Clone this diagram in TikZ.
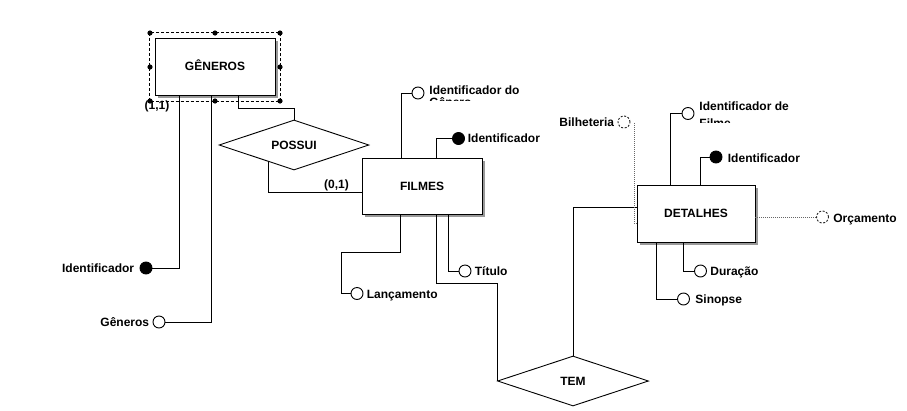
\documentclass[tikz,border=0pt]{standalone}
\usepackage{fontspec}
\setmainfont{Liberation Sans}
\usetikzlibrary{shapes.geometric,shadows,calc}
\begin{document}
\begin{tikzpicture}[x=1pt,y=-1pt,line width=0.9pt,
  every node/.style={font=\fontsize{12}{13}\selectfont\bfseries},
  ent/.style={draw, fill=white, inner sep=0pt, text height=8.6pt, text depth=0pt,
    drop shadow={shadow xshift=2.5pt, shadow yshift=-2.5pt, opacity=1, fill=gray!80}},
  rel/.style={diamond, draw, fill=white, inner sep=0pt, shape aspect=3,
    minimum width=150pt, minimum height=50pt, text height=8.6pt, text depth=0pt},
  attr/.style={circle, draw, fill=white, minimum size=12pt, inner sep=0pt},
  keyattr/.style={attr, fill=black},
  optattr/.style={attr, draw=black!85, dash pattern=on 2pt off 1.6pt},
  lbl/.style={inner sep=0pt},
  optline/.style={draw=gray!80!black, line width=0.8pt, dash pattern=on 1pt off 1pt},
]
\useasboundingbox[fill=white] (0,0) rectangle (907,410);

% entities and relationships
\node[ent, minimum width=120pt, minimum height=57pt] (gen) at (215,66.5) {GÊNEROS};
\node[ent, minimum width=120pt, minimum height=56pt] (fil) at (422,186) {FILMES};
\node[ent, minimum width=118pt, minimum height=57pt] (det) at (696,213.5) {DETALHES};
\node[rel] (pos) at (294,145) {POSSUI};
\node[rel, minimum width=151pt] (tem) at (573,381) {TEM};

% attributes
\node[keyattr] (gId) at (146,268) {};
\node[attr] (gGen) at (159,322) {};
\node[attr] (fIdG) at (418,93) {};
\node[keyattr] (fId) at (458.5,138.5) {};
\node[attr] (fTit) at (465,271) {};
\node[attr] (fLan) at (357,293.5) {};
\node[optattr] (dBil) at (624,122) {};
\node[attr] (dIdF) at (688,113.5) {};
\node[keyattr] (dId) at (716,157) {};
\node[optattr] (dOrc) at (822.5,217) {};
\node[attr] (dDur) at (700.5,271) {};
\node[attr] (dSin) at (683.5,299) {};

% connectors
\draw ($(gen.south west)+(25,0)$) |- (gId.east);
\draw ($(gen.south west)+(57,0)$) |- (gGen.east);
\draw ($(gen.south west)+(84,0)$) -- ++(0,13) -| (pos.north);
\draw ($(pos.south)!0.333!(pos.west)$) |- ($(fil.west)+(0,6)$);
\draw ($(fil.north west)+(40,0)$) |- (fIdG.west);
\draw ($(fil.north west)+(75,0)$) |- (fId.west);
\draw ($(fil.south west)+(87,0)$) |- (fTit.west);
\draw ($(fil.south west)+(39,0)$) -- ++(0,38) -- ++(-59,0) |- (fLan.west);
\draw ($(fil.south west)+(75,0)$) -- ++(0,69) -| (tem.west);
\draw (tem.north) |- ($(det.west)+(0,-6.5)$);
\draw ($(det.north west)+(34,0)$) |- (dIdF.west);
\draw ($(det.north west)+(64,0)$) |- (dId.west);
\draw ($(det.south west)+(47,0)$) |- (dDur.west);
\draw ($(det.south west)+(20,0)$) |- (dSin.west);
\draw[optline] (dOrc.west) -- (dOrc.west -| det.east);
\draw[optline] ($(dBil.east)+(3.5,1)$) |- ($(det.west)+(0,9.5)$);

% labels
\node[lbl, anchor=base east] (tgId) at ($(gId.west)+(-5,4.5)$) {Identificador};
\node[lbl, anchor=base east] (tgGen) at ($(gGen.west)+(-3,4.5)$) {Gêneros};
\node[lbl, anchor=base west] (tfId) at ($(fId.east)+(2.5,4)$) {Identificador};
\node[lbl, anchor=base west] (tfTit) at ($(fTit.east)+(3,4.5)$) {Título};
\node[lbl, anchor=base west] (tfLan) at ($(fLan.east)+(3,5)$) {Lançamento};
\node[lbl, anchor=base east] (tdBil) at ($(dBil.west)+(-3,4.7)$) {Bilheteria};
\node[lbl, anchor=base west] (tdId) at ($(dId.east)+(5,5.5)$) {Identificador};
\node[lbl, anchor=base west] (tdOrc) at ($(dOrc.east)+(4,5)$) {Orçamento};
\node[lbl, anchor=base west] (tdDur) at ($(dDur.east)+(3,4)$) {Duração};
\node[lbl, anchor=base west] (tdSin) at ($(dSin.east)+(5,4.3)$) {Sinopse};

\begin{scope}
  \clip (424,78) rectangle (575,100.7);
  \node[lbl, anchor=base west] (tfIdG1) at (429,94.7) {Identificador do};
  \node[lbl, anchor=base west] (tfIdG2) at (429,106) {Gênero};
\end{scope}
\begin{scope}
  \clip (694,96) rectangle (845,122.7);
  \node[lbl, anchor=base west] (tdIdF1) at (699,110) {Identificador de};
  \node[lbl, anchor=base west] (tdIdF2) at (699,127.5) {Filme};
\end{scope}

% selection frame around GENEROS
\draw[line width=0.7pt, dash pattern=on 3pt off 2pt]
  ($(gen.north west)+(-5,-5)$) rectangle ($(gen.south east)+(5,6)$);
\foreach \p in {(150,33),(215,33),(280,33),(150,67),(280,67),(150,101),(215,101),(280,101)}
  \fill \p circle (2.6);

% cardinalities
\node[lbl, text height=8.6pt, text depth=0pt] (c11) at (157,105) {(1,1)};
\node[lbl, text height=8.6pt, text depth=0pt] (c01) at (336.5,184.5) {(0,1)};
\end{tikzpicture}
\end{document}
